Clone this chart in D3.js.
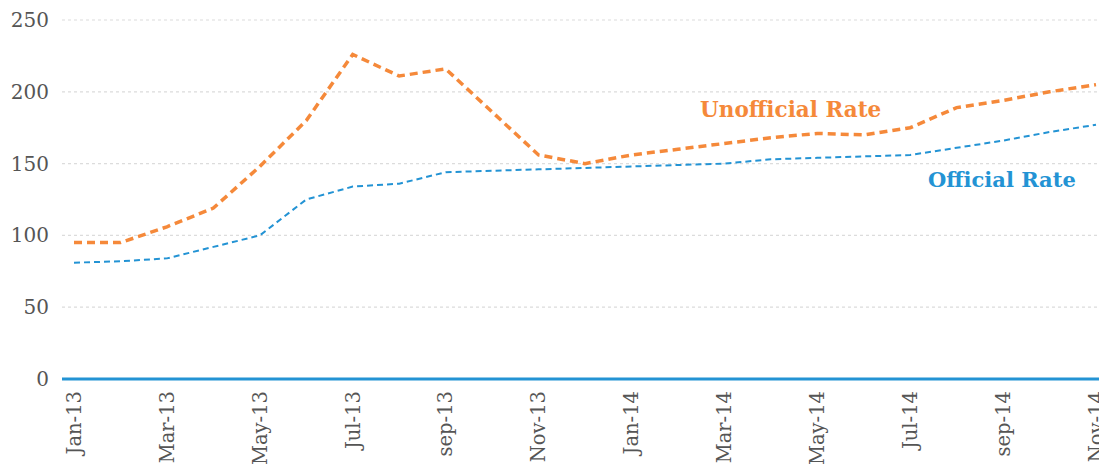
<!DOCTYPE html>
<html>
<head>
<meta charset="utf-8">
<script src="https://cdn.jsdelivr.net/npm/d3@7"></script>
<style>
  body { margin: 0; background: #fff; }
  svg { display: block; }
  .tick-label { font-family: "DejaVu Serif", serif; fill: #555; }
  .series-label { font-family: "DejaVu Serif", serif; font-weight: bold; }
</style>
</head>
<body>
<svg width="1099" height="465"></svg>
<script>
const months = ['Jan-13', 'Feb-13', 'Mar-13', 'Apr-13', 'May-13', 'Jun-13', 'Jul-13', 'Aug-13', 'sep-13', 'Oct-13', 'Nov-13', 'Dec-13',
  'Jan-14', 'Feb-14', 'Mar-14', 'Apr-14', 'May-14', 'Jun-14', 'Jul-14', 'Aug-14', 'sep-14', 'Oct-14', 'Nov-14'];
const unofficial = [95, 95, 106, 119, 148, 180, 226, 211, 216, 186, 156, 150,
  156, 160, 164, 168, 171, 170, 175, 189, 194, 200, 205];
const official = [81, 82, 84, 92, 100, 125, 134, 136, 144, 145, 146, 147,
  148, 149, 150, 153, 154, 155, 156, 161, 166, 172, 177];
const yTicks = [0, 50, 100, 150, 200, 250];
const labelledMonths = months.filter((_, i) => i % 2 === 0);

const svg = d3.select('svg');
const width = +svg.attr('width');

const x = d3.scalePoint().domain(months).range([74, 1096]);
const y = d3.scaleLinear().domain([0, 250]).range([379, 20]);

// gridlines
svg.append('g')
  .selectAll('line')
  .data(yTicks.filter(d => d > 0))
  .join('line')
  .attr('x1', 62).attr('x2', width)
  .attr('y1', d => y(d)).attr('y2', d => y(d))
  .attr('stroke', '#dcdcdc')
  .attr('stroke-width', 1.2)
  .attr('stroke-dasharray', '3,3');

// y labels
svg.append('g')
  .selectAll('text')
  .data(yTicks)
  .join('text')
  .attr('class', 'tick-label')
  .attr('x', 49)
  .attr('y', d => y(d))
  .attr('dy', '0.35em')
  .attr('text-anchor', 'end')
  .style('font-size', '20px')
  .text(d => d);

// x labels (the last one runs off the right edge, as in the original)
svg.append('g')
  .selectAll('text')
  .data(labelledMonths)
  .join('text')
  .attr('class', 'tick-label')
  .attr('transform', d => `translate(${x(d)},391) rotate(-90)`)
  .attr('dy', '0.35em')
  .attr('text-anchor', 'end')
  .style('font-size', '19.5px')
  .text(d => d);

const line = d3.line()
  .x((d, i) => x(months[i]))
  .y(d => y(d));

svg.append('path')
  .datum(official)
  .attr('d', line)
  .attr('fill', 'none')
  .attr('stroke', '#2393d4')
  .attr('stroke-width', 2)
  .attr('stroke-dasharray', '6,4');

svg.append('path')
  .datum(unofficial)
  .attr('d', line)
  .attr('fill', 'none')
  .attr('stroke', '#f5893a')
  .attr('stroke-width', 3.5)
  .attr('stroke-dasharray', '8,5');

// baseline
svg.append('line')
  .attr('x1', 62).attr('x2', width)
  .attr('y1', y(0)).attr('y2', y(0))
  .attr('stroke', '#2393d4')
  .attr('stroke-width', 3);

svg.append('text')
  .attr('class', 'series-label')
  .attr('x', 700).attr('y', 117)
  .attr('fill', '#f5893a')
  .style('font-size', '21.5px')
  .text('Unofficial Rate');

svg.append('text')
  .attr('class', 'series-label')
  .attr('x', 928).attr('y', 187)
  .attr('fill', '#2393d4')
  .style('font-size', '21px')
  .text('Official Rate');
</script>
</body>
</html>
